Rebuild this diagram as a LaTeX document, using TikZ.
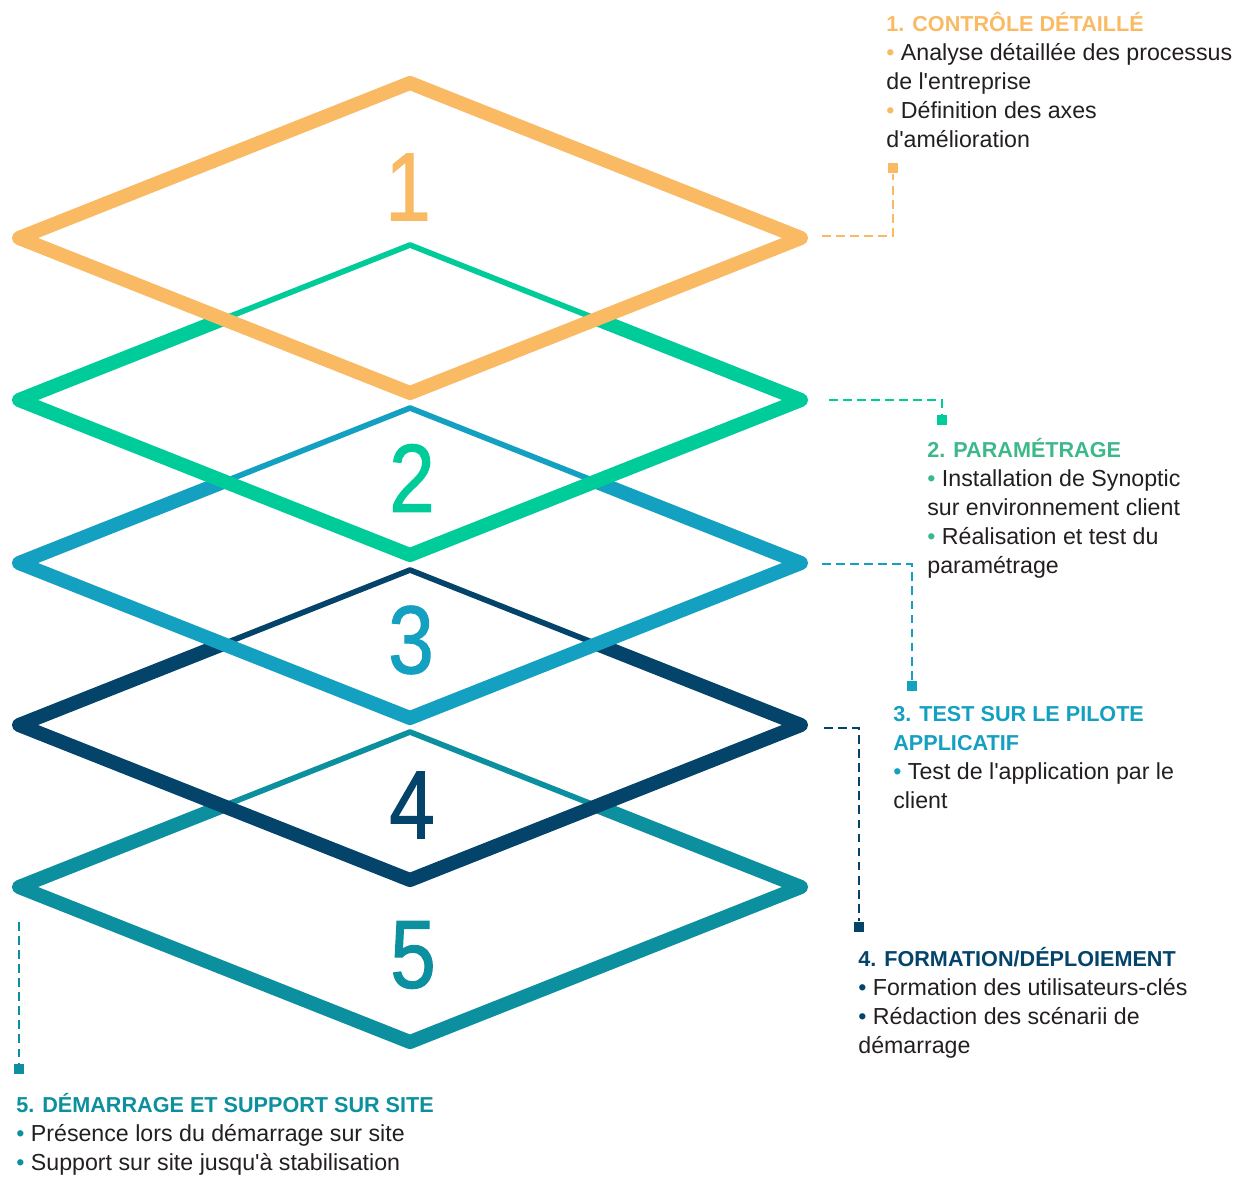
\documentclass[tikz,border=0pt]{standalone}
\usepackage{fontspec}
\setmainfont{Liberation Sans}
\newfontfamily\grasfont[FakeBold=1.2]{Liberation Sans}
\definecolor{c1}{HTML}{F9BA63}
\definecolor{c2}{HTML}{00CC9A}
\definecolor{c3}{HTML}{14A0C0}
\definecolor{c4}{HTML}{04446A}
\definecolor{c5}{HTML}{0C8F9E}
\definecolor{h2}{HTML}{3DB88A}
\definecolor{ink}{HTML}{231F20}
% one layer of the stack, centred at height #1
\newcommand\losange[1]{(410,{#1-155}) -- (801,#1) -- (410,{#1+155}) -- (19,#1) -- cycle}
\newcommand\titre[2]{{\color{#1}\fontsize{12.3}{16.45}\selectfont\bfseries #2}}
\newcommand\puce[1]{{\color{#1}\textbullet}~}
\newcommand\apos{\textquotesingle}
\tikzset{
  epais/.style={line width=8pt,line join=round},
  fin/.style={line width=3.2pt,line join=round},
  tiret/.style={line width=1.4pt,dash pattern=on 5pt off 3pt},
  carre/.style={minimum size=6pt,inner sep=0pt},
  chiffre/.style={font=\grasfont\fontsize{55}{55}\selectfont,xscale=0.85,inner sep=0pt},
  bloc/.style={anchor=north west,align=left,inner sep=0pt,text=ink,font=\fontsize{13.2}{16.45}\selectfont}
}
\begin{document}
\begin{tikzpicture}[x=0.02cm,y=-0.02cm]
\useasboundingbox (0,0) rectangle (1241,1179);
% layers, from the bottom one up
\draw[epais,c5] \losange{887};
\fill[white] \losange{725};
\begin{scope}\clip \losange{725};\draw[fin,c5] \losange{887};\end{scope}
\draw[epais,c4] \losange{725};
\fill[white] \losange{563};
\begin{scope}\clip \losange{563};\draw[fin,c4] \losange{725};\end{scope}
\draw[epais,c3] \losange{563};
\fill[white] \losange{400};
\begin{scope}\clip \losange{400};\draw[fin,c3] \losange{563};\end{scope}
\draw[epais,c2] \losange{400};
\fill[white] \losange{238};
\begin{scope}\clip \losange{238};\draw[fin,c2] \losange{400};\end{scope}
\draw[epais,c1] \losange{238};
% numbers
\node[chiffre,text=c1] (n1) at (408,187) {1};
\node[chiffre,text=c2] (n2) at (412,478) {2};
\node[chiffre,text=c3] (n3) at (411,640) {3};
\node[chiffre,text=c4] (n4) at (412,805) {4};
\node[chiffre,text=c5] (n5) at (413,955) {5};
% callouts
\coordinate (p1) at (822,236);
\coordinate (p2) at (829,400);
\coordinate (p3) at (822,564);
\coordinate (p4) at (824,728);
\coordinate (p5) at (19,922);
\node[carre,fill=c1] (s1) at (893,168) {};
\node[carre,fill=c2] (s2) at (942,420) {};
\node[carre,fill=c3] (s3) at (912,686) {};
\node[carre,fill=c4] (s4) at (859,927) {};
\node[carre,fill=c5] (s5) at (19,1069) {};
\draw[tiret,c1] (p1) -| (s1.south);
\draw[tiret,c2] (p2) -| (s2.north);
\draw[tiret,c3] (p3) -| (s3.north);
\draw[tiret,c4] (p4) -| (s4.north);
\draw[tiret,c5] (p5) -- (s5.north);
% texts
\node[bloc] (t1) at (886,12) {\titre{c1}{1. CONTRÔLE DÉTAILLÉ}\\
  \puce{c1}Analyse détaillée des processus\\ de l\apos entreprise\\
  \puce{c1}Définition des axes\\ d\apos amélioration};
\node[bloc] (t2) at (927,438) {\titre{h2}{2. PARAMÉTRAGE}\\
  \puce{h2}Installation de Synoptic\\ sur environnement client\\
  \puce{h2}Réalisation et test du\\ paramétrage};
\node[bloc] (t3) at (893,706) {\titre{c3}{3. TEST SUR LE PILOTE}\\ \titre{c3}{APPLICATIF}\\
  \puce{c3}Test de l\apos application par le\\ client};
\node[bloc] (t4) at (858,947) {\titre{c4}{4. FORMATION/DÉPLOIEMENT}\\
  \puce{c4}Formation des utilisateurs-clés\\
  \puce{c4}Rédaction des scénarii de\\ démarrage};
\node[bloc] (t5) at (16,1093) {\titre{c5}{5. DÉMARRAGE ET SUPPORT SUR SITE}\\
  \puce{c5}Présence lors du démarrage sur site\\
  \puce{c5}Support sur site jusqu\apos à stabilisation};
\end{tikzpicture}
\end{document}
